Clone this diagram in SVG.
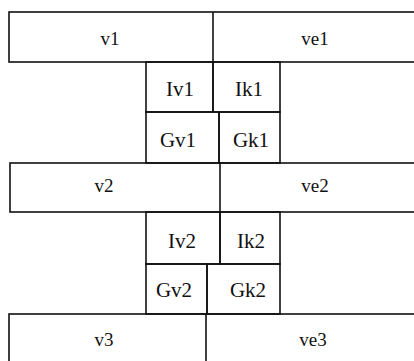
<svg xmlns="http://www.w3.org/2000/svg" width="414" height="361" viewBox="0 0 414 361">
<style>
.b{fill:none;stroke:#111;stroke-width:1.6}
.t{font-family:"Liberation Serif","Times New Roman",serif;fill:#111;text-anchor:middle}
.r{font-size:19px}
.s{font-size:21px}
</style>
<rect width="414" height="361" fill="#fff"/>
<g id="row1">
<rect class="b" x="9" y="12" width="420" height="50"/>
<line class="b" x1="213" y1="12" x2="213" y2="62"/>
<text class="t r" x="110" y="45">v1</text>
<text class="t r" x="315" y="45">ve1</text>
</g>
<g id="Iv1"><rect class="b" x="146" y="62" width="67" height="50"/><text class="t s" x="180" y="96">Iv1</text></g>
<g id="Ik1"><rect class="b" x="213" y="62" width="67" height="50"/><text class="t s" x="249" y="96">Ik1</text></g>
<g id="Gv1"><rect class="b" x="146" y="112" width="73" height="51"/><text class="t s" x="178" y="147">Gv1</text></g>
<g id="Gk1"><rect class="b" x="219" y="112" width="61" height="51"/><text class="t s" x="251" y="147">Gk1</text></g>
<g id="row2">
<rect class="b" x="10" y="163" width="420" height="49"/>
<line class="b" x1="220" y1="163" x2="220" y2="212"/>
<text class="t r" x="104" y="192">v2</text>
<text class="t r" x="315" y="192">ve2</text>
</g>
<g id="Iv2"><rect class="b" x="146" y="212" width="74" height="52"/><text class="t s" x="182" y="248">Iv2</text></g>
<g id="Ik2"><rect class="b" x="220" y="212" width="60" height="52"/><text class="t s" x="251" y="248">Ik2</text></g>
<g id="Gv2"><rect class="b" x="146" y="264" width="61" height="50"/><text class="t s" x="174" y="297">Gv2</text></g>
<g id="Gk2"><rect class="b" x="207" y="264" width="73" height="50"/><text class="t s" x="248" y="297">Gk2</text></g>
<g id="row3">
<rect class="b" x="9" y="314" width="420" height="60"/>
<line class="b" x1="206" y1="314" x2="206" y2="361"/>
<text class="t r" x="104" y="346">v3</text>
<text class="t r" x="313" y="346">ve3</text>
</g>
<g id="connectors"></g>
</svg>
